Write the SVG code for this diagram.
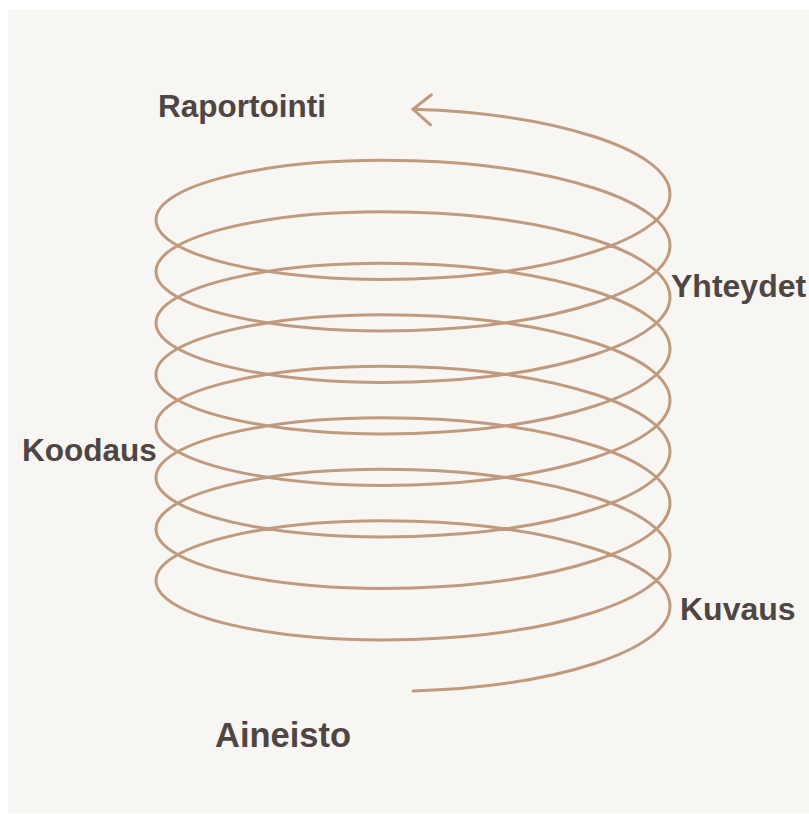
<svg xmlns="http://www.w3.org/2000/svg" width="809" height="814" viewBox="0 0 809 814">
<style>
.lbl{font-family:"Liberation Sans",Arial,sans-serif;font-weight:bold;fill:#4f4643}
.coil{fill:none;stroke:#c09a7e;stroke-width:3;stroke-linecap:round;stroke-linejoin:round}
</style>
<defs>
<marker id="chev" markerUnits="userSpaceOnUse" markerWidth="40" markerHeight="40" viewBox="-25 -20 30 40" refX="0" refY="0" orient="auto" overflow="visible">
<path d="M-18,-15 L0,0 L-18,15" fill="none" stroke="#c09a7e" stroke-width="3" stroke-linecap="round" stroke-linejoin="round"/>
</marker>
</defs>
<rect x="0" y="0" width="809" height="814" fill="#ffffff"/>
<rect x="8" y="10" width="801" height="803" fill="#f8f6f2"/>
<g id="connectors">
<path class="coil" marker-end="url(#chev)" d="M413,691
c141.9,-4.29 257,-40.785 257,-84.875 c0,-44.09 -115.1,-80.585 -257,-84.875 c-141.9,-4.29 -257,23.615 -257,59.125 c0,35.51 115.1,63.415 257,59.125
c141.9,-4.29 257,-40.785 257,-84.875 c0,-44.09 -115.1,-80.585 -257,-84.875 c-141.9,-4.29 -257,23.615 -257,59.125 c0,35.51 115.1,63.415 257,59.125
c141.9,-4.29 257,-40.785 257,-84.875 c0,-44.09 -115.1,-80.585 -257,-84.875 c-141.9,-4.29 -257,23.615 -257,59.125 c0,35.51 115.1,63.415 257,59.125
c141.9,-4.29 257,-40.785 257,-84.875 c0,-44.09 -115.1,-80.585 -257,-84.875 c-141.9,-4.29 -257,23.615 -257,59.125 c0,35.51 115.1,63.415 257,59.125
c141.9,-4.29 257,-40.785 257,-84.875 c0,-44.09 -115.1,-80.585 -257,-84.875 c-141.9,-4.29 -257,23.615 -257,59.125 c0,35.51 115.1,63.415 257,59.125
c141.9,-4.29 257,-40.785 257,-84.875 c0,-44.09 -115.1,-80.585 -257,-84.875 c-141.9,-4.29 -257,23.615 -257,59.125 c0,35.51 115.1,63.415 257,59.125
c141.9,-4.29 257,-40.785 257,-84.875 c0,-44.09 -115.1,-80.585 -257,-84.875 c-141.9,-4.29 -257,23.615 -257,59.125 c0,35.51 115.1,63.415 257,59.125
c141.9,-4.29 257,-40.785 257,-84.875 c0,-44.09 -115.1,-80.585 -257,-84.875 c-141.9,-4.29 -257,23.615 -257,59.125 c0,35.51 115.1,63.415 257,59.125
c141.9,-4.29 257,-40.785 257,-84.875 c0,-44.09 -115.1,-80.585 -257,-84.875"/>
</g>
<g id="raportointi"><text class="lbl" x="158" y="117" font-size="31.5">Raportointi</text></g>
<g id="yhteydet"><text class="lbl" x="671" y="297" font-size="32">Yhteydet</text></g>
<g id="koodaus"><text class="lbl" x="22" y="461" font-size="31.5">Koodaus</text></g>
<g id="kuvaus"><text class="lbl" x="680" y="620" font-size="32">Kuvaus</text></g>
<g id="aineisto"><text class="lbl" x="215" y="747" font-size="34.5">Aineisto</text></g>
</svg>
